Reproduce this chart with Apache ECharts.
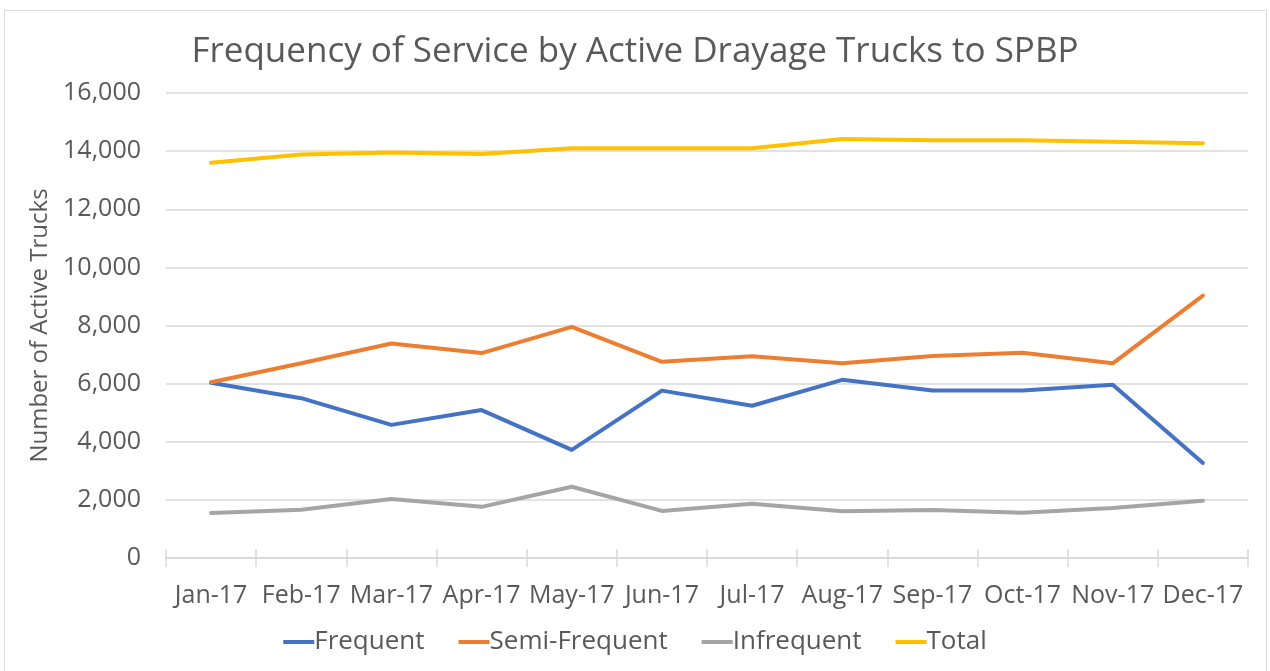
<!DOCTYPE html>
<html>
<head>
<meta charset="utf-8">
<title>Frequency of Service by Active Drayage Trucks to SPBP</title>
<script src="https://cdn.jsdelivr.net/npm/echarts@6/dist/echarts.min.js"></script>
<style>
    html, body {
        margin: 0;
        padding: 0;
        background: #ffffff;
    }
    .frame {
        position: absolute;
        left: 4px;
        top: 10px;
        width: 1263px;
        height: 670px;
        border: 1px solid #d9d9d9;
        box-sizing: border-box;
    }
    #main {
        position: absolute;
        left: 0;
        top: 0;
        width: 1270px;
        height: 671px;
    }
</style>
</head>
<body>
<div class="frame"></div>
<div id="main"></div>
<script>
// months on the x axis
var months = ['Jan-17', 'Feb-17', 'Mar-17', 'Apr-17', 'May-17', 'Jun-17',
    'Jul-17', 'Aug-17', 'Sep-17', 'Oct-17', 'Nov-17', 'Dec-17'];

// active trucks per month
var frequent = [6030, 5500, 4580, 5090, 3720, 5760, 5240, 6130, 5760, 5760, 5960, 3270];
var semiFrequent = [6050, 6700, 7380, 7050, 7950, 6750, 6940, 6700, 6950, 7060, 6700, 9030];
var infrequent = [1550, 1660, 2030, 1760, 2450, 1620, 1870, 1610, 1650, 1560, 1720, 1970];
var total = [13600, 13880, 13950, 13900, 14100, 14100, 14100, 14420, 14370, 14370, 14320, 14270];

var yTicks = [0, 16000, 2000]; // min, max, step

var myChart = echarts.init(document.getElementById('main'));
var option;

var font = '"Open Sans", sans-serif';
var textColor = '#595959';

function lineSeries(name, data, color) {
    return {
        name: name,
        type: 'line',
        data: data,
        symbol: 'none',
        lineStyle: { width: 4, color: color, cap: 'round', join: 'round' },
        itemStyle: { color: color }
    };
}

option = {
    animation: false,
    title: {
        text: 'Frequency of Service by Active Drayage Trucks to SPBP',
        left: 'center',
        top: 30,
        textStyle: {
            fontFamily: font,
            fontSize: 35,
            fontWeight: 'normal',
            color: textColor
        }
    },
    legend: {
        top: 624,
        left: 'center',
        itemWidth: 31,
        itemHeight: 4,
        itemGap: 34,
        icon: 'rect',
        textStyle: {
            fontFamily: font,
            fontSize: 26,
            color: textColor,
            padding: [0, 0, 0, -5]
        },
        data: ['Frequent', 'Semi-Frequent', 'Infrequent', 'Total']
    },
    grid: {
        left: 166,
        right: 22,
        top: 93,
        bottom: 113
    },
    xAxis: [
        {
            type: 'category',
            data: months,
            boundaryGap: true,
            axisLine: { lineStyle: { color: '#d9d9d9', width: 1.5 } },
            axisTick: { show: true, length: 9, lineStyle: { color: '#d9d9d9', width: 1.5 } },
            axisLabel: {
                interval: 0,
                margin: 25,
                fontFamily: font,
                fontSize: 25,
                color: textColor
            }
        },
        {
            // second copy only for the inward half of the crossing ticks
            type: 'category',
            data: months,
            position: 'bottom',
            boundaryGap: true,
            axisLine: { show: false },
            axisTick: { show: true, inside: true, length: 9, lineStyle: { color: '#d9d9d9', width: 1.5 } },
            axisLabel: { show: false }
        }
    ],
    yAxis: {
        type: 'value',
        min: yTicks[0],
        max: yTicks[1],
        interval: yTicks[2],
        name: 'Number of Active Trucks',
        nameLocation: 'middle',
        nameGap: 113,
        nameRotate: 90,
        nameTextStyle: {
            fontFamily: font,
            fontSize: 24,
            color: textColor
        },
        axisLine: { show: false },
        axisTick: { show: false },
        axisLabel: {
            margin: 25,
            fontFamily: font,
            fontSize: 25,
            color: textColor,
            formatter: function (v) {
                return v.toLocaleString('en-US');
            }
        },
        splitLine: { lineStyle: { color: '#d9d9d9', width: 1.5 } }
    },
    series: [
        lineSeries('Frequent', frequent, '#4472C4'),
        lineSeries('Semi-Frequent', semiFrequent, '#ED7D31'),
        lineSeries('Infrequent', infrequent, '#A5A5A5'),
        lineSeries('Total', total, '#FFC000')
    ]
};

option && myChart.setOption(option);
</script>
</body>
</html>
